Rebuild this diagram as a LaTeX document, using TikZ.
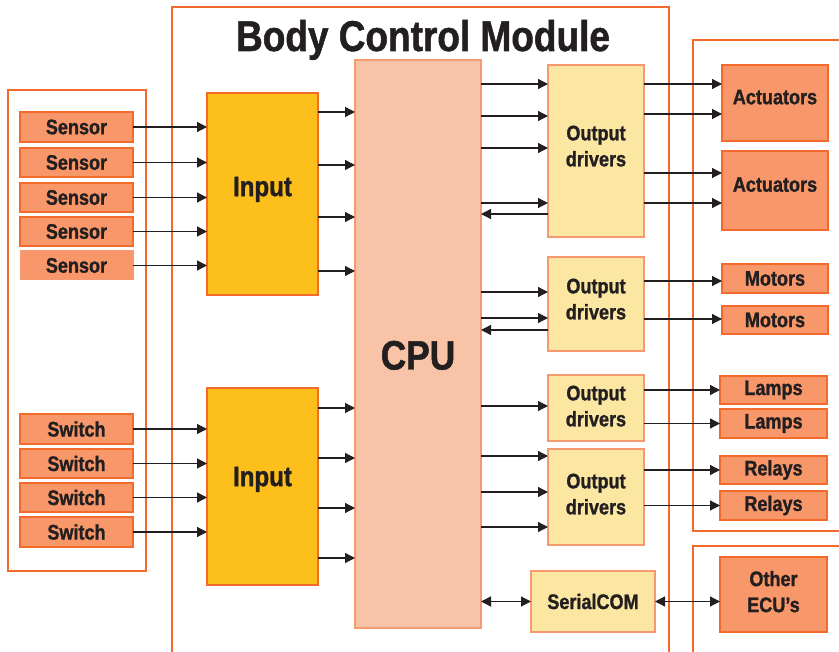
\documentclass[tikz,border=0pt]{standalone}
\usepackage{fontspec}
\newfontfamily\cond{Liberation Sans}[FakeStretch=0.86,FakeBold=1.2]
\usetikzlibrary{arrows.meta}
\definecolor{ora}{HTML}{F26B2B}
\definecolor{oralt}{HTML}{F59A70}
\definecolor{salm}{HTML}{F7976A}
\definecolor{gold}{HTML}{FDBF1B}
\definecolor{cpuc}{HTML}{F9C3A7}
\definecolor{drv}{HTML}{FBE6A2}
\definecolor{txt}{HTML}{231F20}
\begin{document}
\begin{tikzpicture}[x=1pt,y=-1pt,
  lbl/.style={font=\cond\bfseries\fontsize{21}{26}\selectfont, text=txt, align=center},
  ext/.style={lbl, draw=ora, line width=2.6pt, fill=salm, inner sep=0pt, outer sep=0pt, anchor=north west},
  inbox/.style={lbl, draw=ora, line width=1.2pt, fill=gold, inner sep=0pt, outer sep=0pt, anchor=north west, font=\cond\bfseries\fontsize{28}{30}\selectfont},
  cpubox/.style={lbl, draw=oralt, line width=1.2pt, fill=cpuc, inner sep=0pt, outer sep=0pt, anchor=north west, font=\cond\bfseries\fontsize{41}{44}\selectfont},
  drvbox/.style={lbl, draw=oralt, line width=1.2pt, fill=drv, inner sep=0pt, outer sep=0pt, anchor=north west},
  grp/.style={draw=ora, line width=2.4pt},
  arr/.style={line width=1.3pt, draw=txt, -{Triangle[length=10pt,width=10pt]}},
  darr/.style={line width=1.3pt, draw=txt, {Triangle[length=10pt,width=10pt]}-{Triangle[length=10pt,width=10pt]}}
]
\useasboundingbox (0,0) rectangle (839,652);
% group frames
\draw[grp] (8,90) rectangle (146,571);
\draw[grp] (172,653) -- (172,7) -- (669,7) -- (669,653);
\draw[grp] (840,40) -- (693,40) -- (693,531) -- (840,531);
\draw[grp] (840,546) -- (693,546) -- (693,653);
\node[font=\cond\bfseries\fontsize{43}{46}\selectfont, text=txt, anchor=base] (title) at (423,51) {Body Control Module};
% sensors
\node[ext, minimum width=113, minimum height=30] (s1) at (20,112) {Sensor};
\node[ext, minimum width=113, minimum height=29] (s2) at (20,148) {Sensor};
\node[ext, minimum width=113, minimum height=29] (s3) at (20,183) {Sensor};
\node[ext, minimum width=113, minimum height=29] (s4) at (20,217) {Sensor};
\node[ext, minimum width=113, minimum height=29, line width=1pt, draw=oralt] (s5) at (20,251) {Sensor};
% switches
\node[ext, minimum width=113, minimum height=30] (w1) at (20,414) {Switch};
\node[ext, minimum width=113, minimum height=29] (w2) at (20,449) {Switch};
\node[ext, minimum width=113, minimum height=29] (w3) at (20,483) {Switch};
\node[ext, minimum width=113, minimum height=30] (w4) at (20,517) {Switch};
% inputs
\node[inbox, minimum width=111, minimum height=202, text depth=15pt] (in1) at (207,93) {Input};
\node[inbox, minimum width=111, minimum height=197, text depth=20pt] (in2) at (207,388) {Input};
% cpu
\node[cpubox, minimum width=126, minimum height=568, text height=51pt, text depth=0pt] (cpu) at (355,60) {CPU};
% drivers
\node[drvbox, minimum width=96, minimum height=172, text depth=10pt] (od1) at (548,65) {Output\\drivers};
\node[drvbox, minimum width=96, minimum height=94, text depth=10pt] (od2) at (548,257) {Output\\drivers};
\node[drvbox, minimum width=96, minimum height=66, text depth=4pt] (od3) at (548,375) {Output\\drivers};
\node[drvbox, minimum width=96, minimum height=96, text depth=6pt] (od4) at (548,449) {Output\\drivers};
\node[drvbox, minimum width=124, minimum height=61] (ser) at (531,571) {SerialCOM};
% outputs
\node[ext, minimum width=106, minimum height=76, text depth=12pt] (a1) at (722,65) {Actuators};
\node[ext, minimum width=106, minimum height=79, text depth=12pt] (a2) at (722,151) {Actuators};
\node[ext, minimum width=106, minimum height=29] (m1) at (722,264) {Motors};
\node[ext, minimum width=106, minimum height=28] (m2) at (722,306) {Motors};
\node[ext, minimum width=107, minimum height=28] (l1) at (720,376) {Lamps};
\node[ext, minimum width=107, minimum height=29] (l2) at (720,409) {Lamps};
\node[ext, minimum width=107, minimum height=28] (r1) at (720,456) {Relays};
\node[ext, minimum width=107, minimum height=29] (r2) at (720,491) {Relays};
\node[ext, minimum width=107, minimum height=75, text depth=6pt] (ecu) at (720,557) {Other\\ECU’s};
% sensor / switch arrows
\foreach \n in {s1,s2,s3,s4,s5} \draw[arr] (\n.east) -- (\n.east -| in1.west);
\foreach \n in {w1,w2,w3,w4} \draw[arr] (\n.east) -- (\n.east -| in2.west);
% input -> cpu
\foreach \y in {112,165,217,271} \draw[arr] (in1.east |- 0,\y) -- (cpu.west |- 0,\y);
\foreach \y in {408,458,508,558} \draw[arr] (in2.east |- 0,\y) -- (cpu.west |- 0,\y);
% cpu -> drivers
\foreach \y in {84,116,148,203} \draw[arr] (cpu.east |- 0,\y) -- (od1.west |- 0,\y);
\draw[arr] (od1.west |- 0,214) -- (cpu.east |- 0,214);
\foreach \y in {292,318} \draw[arr] (cpu.east |- 0,\y) -- (od2.west |- 0,\y);
\draw[arr] (od2.west |- 0,330) -- (cpu.east |- 0,330);
\draw[arr] (cpu.east |- 0,406) -- (od3.west |- 0,406);
\foreach \y in {456,492,527} \draw[arr] (cpu.east |- 0,\y) -- (od4.west |- 0,\y);
\draw[darr] (cpu.east |- ser.west) -- (ser.west);
% drivers -> outputs
\foreach \y in {84,114} \draw[arr] (od1.east |- 0,\y) -- (a1.west |- 0,\y);
\foreach \y in {173,203} \draw[arr] (od1.east |- 0,\y) -- (a2.west |- 0,\y);
\draw[arr] (od2.east |- 0,281) -- (m1.west |- 0,281);
\draw[arr] (od2.east |- 0,319) -- (m2.west |- 0,319);
\draw[arr] (od3.east |- l1.west) -- (l1.west);
\draw[arr] (od3.east |- l2.west) -- (l2.west);
\draw[arr] (od4.east |- r1.west) -- (r1.west);
\draw[arr] (od4.east |- r2.west) -- (r2.west);
\draw[darr] (ser.east) -- (ser.east -| ecu.west);
\end{tikzpicture}
\end{document}
